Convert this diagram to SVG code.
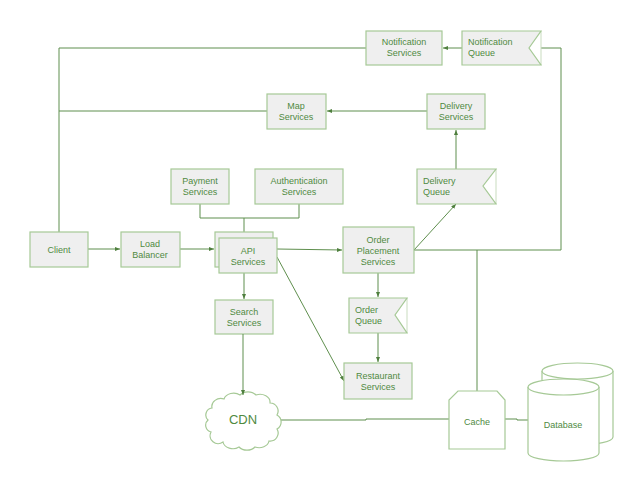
<svg xmlns="http://www.w3.org/2000/svg" width="640" height="480" viewBox="0 0 640 480">
<defs>
<style>
.box{fill:#efefef;stroke:#a6c996;stroke-width:1.2}
.edge{fill:none;stroke:#c9dcbf;stroke-width:1}
.wbox{fill:#ffffff;stroke:#a6c996;stroke-width:1.2}
.ln{fill:none;stroke:#5f8f4e;stroke-width:1}
text{font-family:"Liberation Sans",Arial,sans-serif;font-size:9px;fill:#4f8a3f;text-anchor:middle}
.l{text-anchor:start}
</style>
<marker id="ah" markerWidth="6" markerHeight="6" refX="5" refY="3" orient="auto" markerUnits="userSpaceOnUse">
<path d="M0,1 L5,3 L0,5 Z" fill="#4f7f3e"/>
</marker>
</defs>
<rect width="640" height="480" fill="#ffffff"/>
<g id="connectors">
<polyline class="ln" points="366,48 59,48 59,232"/>
<line class="ln" x1="267" y1="111" x2="59" y2="111"/>
<line class="ln" x1="462" y1="48" x2="443" y2="48" marker-end="url(#ah)"/>
<polyline class="ln" points="541,48 561,48 561,250 414,250"/>
<line class="ln" x1="427" y1="111" x2="327" y2="111" marker-end="url(#ah)"/>
<line class="ln" x1="456" y1="169" x2="456" y2="130" marker-end="url(#ah)"/>
<polyline class="ln" points="200,204 200,218 299,218 299,204"/>
<line class="ln" x1="244" y1="218" x2="244" y2="232"/>
<line class="ln" x1="88" y1="249" x2="120" y2="249" marker-end="url(#ah)"/>
<line class="ln" x1="180" y1="249" x2="214" y2="249" marker-end="url(#ah)"/>
<line class="ln" x1="277" y1="249" x2="342" y2="250" marker-end="url(#ah)"/>
<line class="ln" x1="244" y1="273" x2="244" y2="299" marker-end="url(#ah)"/>
<line class="ln" x1="277" y1="257" x2="344" y2="381" marker-end="url(#ah)"/>
<line class="ln" x1="414" y1="250" x2="456" y2="204" marker-end="url(#ah)"/>
<line class="ln" x1="378" y1="273" x2="378" y2="297" marker-end="url(#ah)"/>
<line class="ln" x1="378" y1="333" x2="378" y2="362" marker-end="url(#ah)"/>
<polyline class="ln" points="280,420 366,420 366,419 449,419"/>
<line class="ln" x1="477" y1="250" x2="477" y2="391"/>
<polyline class="ln" points="505,419 517,419 517,420 528,420"/>
</g>
<g id="notification-services"><rect class="box" x="366" y="31" width="76" height="34"/><text x="404" y="45">Notification</text><text x="404" y="56">Services</text></g>
<g id="notification-queue"><line class="edge" x1="541" y1="31" x2="541" y2="65"/><path class="box" d="M462,31 H541 L529,48 L541,65 H462 Z"/><text class="l" x="468" y="45">Notification</text><text class="l" x="468" y="56">Queue</text></g>
<g id="map-services"><rect class="box" x="267" y="94" width="59" height="35"/><text x="296" y="109">Map</text><text x="296" y="120">Services</text></g>
<g id="delivery-services"><rect class="box" x="427" y="94" width="58" height="35"/><text x="456" y="109">Delivery</text><text x="456" y="120">Services</text></g>
<g id="payment-services"><rect class="box" x="171" y="169" width="58" height="35"/><text x="200" y="184">Payment</text><text x="200" y="195">Services</text></g>
<g id="authentication-services"><rect class="box" x="255" y="169" width="88" height="35"/><text x="299" y="184">Authentication</text><text x="299" y="195">Services</text></g>
<g id="delivery-queue"><line class="edge" x1="496" y1="169" x2="496" y2="204"/><path class="box" d="M417,169 H496 L483,186 L496,204 H417 Z"/><text class="l" x="423" y="184">Delivery</text><text class="l" x="423" y="195">Queue</text></g>
<g id="client"><rect class="box" x="30" y="232" width="58" height="35"/><text x="59" y="253">Client</text></g>
<g id="load-balancer"><rect class="box" x="121" y="232" width="59" height="35"/><text x="150" y="247">Load</text><text x="150" y="258">Balancer</text></g>
<g id="api-services"><rect class="box" x="215" y="232" width="58" height="35"/><rect class="box" x="219" y="238" width="58" height="35"/><text x="248" y="254">API</text><text x="248" y="265">Services</text></g>
<g id="order-placement-services"><rect class="box" x="343" y="227" width="71" height="46"/><text x="378" y="243">Order</text><text x="378" y="254">Placement</text><text x="378" y="265">Services</text></g>
<g id="search-services"><rect class="box" x="215" y="300" width="58" height="34"/><text x="244" y="315">Search</text><text x="244" y="326">Services</text></g>
<g id="order-queue"><line class="edge" x1="407" y1="298" x2="407" y2="333"/><path class="box" d="M349,298 H407 L395,315 L407,333 H349 Z"/><text class="l" x="355" y="313">Order</text><text class="l" x="355" y="324">Queue</text></g>
<g id="restaurant-services"><rect class="box" x="344" y="363" width="68" height="36"/><text x="378" y="379">Restaurant</text><text x="378" y="390">Services</text></g>
<g id="cdn"><path class="wbox" d="M212,408 a9,8 0 0 1 12,-9 a10,8 0 0 1 16,-4 a10,8 0 0 1 16,0 a10,8 0 0 1 14,8 a8,8 0 0 1 7,12 a8,8 0 0 1 0,14 a8,8 0 0 1 -8,12 a10,8 0 0 1 -14,6 a10,8 0 0 1 -16,0 a10,8 0 0 1 -16,-5 a8,8 0 0 1 -12,-10 a7,7 0 0 1 -3,-12 a7,7 0 0 1 4,-12 Z"/><text x="243" y="424" style="font-size:13px">CDN</text></g>
<line class="ln" x1="243" y1="334" x2="243" y2="395" marker-end="url(#ah)"/>
<g id="cache"><path class="wbox" d="M458,391 H497 L505,400 V449 H449 V400 Z"/><text x="477" y="425">Cache</text></g>
<g id="database">
<path class="wbox" d="M542,371 V437 A35.5,8 0 0 0 613,437 V371"/>
<ellipse class="wbox" cx="577.5" cy="371" rx="35.5" ry="8"/>
<path class="wbox" d="M528,387 V453 A35.5,8 0 0 0 599,453 V387"/>
<ellipse class="wbox" cx="563.5" cy="387" rx="35.5" ry="8"/>
<text x="563" y="428">Database</text>
</g>
</svg>
